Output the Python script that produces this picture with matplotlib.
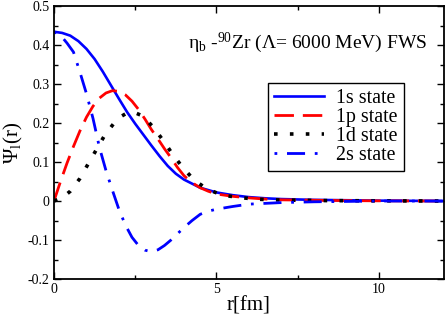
import matplotlib
matplotlib.use("Agg")
import matplotlib.pyplot as plt
from matplotlib.ticker import MultipleLocator

plt.rcParams['font.family'] = ['Liberation Serif', 'DejaVu Serif']
plt.rcParams['mathtext.fontset'] = 'custom'
plt.rcParams['mathtext.rm'] = 'Liberation Serif'
plt.rcParams['mathtext.it'] = 'Liberation Serif:italic'

# values
r_1s = [0, 0.25, 0.5, 0.75, 1.0, 1.25, 1.5, 1.75, 2.0, 2.25, 2.5, 2.75, 3.0, 3.25,
        3.5, 3.75, 4.0, 4.5, 5.0, 5.5, 6.0, 6.5, 7.0, 8.0, 9.0, 10.0, 11.0, 12.0]
psi_1s = [0.434, 0.431, 0.424, 0.41, 0.39, 0.364, 0.332, 0.297, 0.262, 0.228, 0.198,
          0.17, 0.142, 0.115, 0.09, 0.07, 0.055, 0.034, 0.022, 0.015, 0.01, 0.007,
          0.005, 0.003, 0.002, 0.001, 0.0005, 0.0]

r_1p = [0, 0.2, 0.4, 0.6, 0.8, 1.0, 1.2, 1.4, 1.6, 1.8, 2.0, 2.2, 2.4, 2.6, 2.8, 3.0,
        3.2, 3.4, 3.6, 3.8, 4.0, 4.25, 4.5, 4.75, 5.0, 5.5, 6.0, 6.5, 7.0, 8.0, 9.0,
        10.0, 12.0]
psi_1p = [0.0, 0.05, 0.097, 0.14, 0.18, 0.215, 0.243, 0.264, 0.277, 0.283, 0.281,
          0.272, 0.256, 0.235, 0.21, 0.183, 0.159, 0.134, 0.111, 0.086, 0.065, 0.047,
          0.034, 0.025, 0.018, 0.012, 0.008, 0.005, 0.003, 0.002, 0.001, 0.0005, 0.0]

r_1d = [0, 0.25, 0.5, 0.8, 1.05, 1.3, 1.55, 1.85, 2.05, 2.25, 2.45, 2.73, 3.06, 3.37,
        3.65, 3.96, 4.31, 4.72, 5.19, 5.7, 6.2, 6.7, 7.5, 8.5, 10.0, 12.0]
psi_1d = [0.0, 0.008, 0.025, 0.058, 0.095, 0.131, 0.167, 0.2, 0.216, 0.226, 0.228,
          0.218, 0.189, 0.154, 0.12, 0.086, 0.054, 0.03, 0.015, 0.009, 0.005, 0.003,
          0.002, 0.001, 0.0005, 0.0]

r_2s = [0, 0.2, 0.4, 0.6, 0.8, 1.0, 1.2, 1.4, 1.6, 1.8, 2.0, 2.2, 2.4, 2.6, 2.8, 3.0,
        3.2, 3.4, 3.6, 3.8, 4.0, 4.25, 4.5, 4.75, 5.0, 5.5, 6.0, 6.5, 7.0, 7.5, 8.0,
        9.0, 10.0, 12.0]
psi_2s = [0.434, 0.425, 0.405, 0.382, 0.33, 0.275, 0.212, 0.137, 0.078, 0.027, -0.022,
          -0.062, -0.093, -0.114, -0.126, -0.13, -0.125, -0.114, -0.1, -0.084, -0.068,
          -0.05, -0.034, -0.026, -0.021, -0.014, -0.008, -0.006, -0.004, -0.003,
          -0.002, -0.001, 0.0, 0.0]

yticks = [-0.2, -0.1, 0, 0.1, 0.2, 0.3, 0.4, 0.5]
ytick_labels = ['-0.2', '-0.1', '0', '0.1', '0.2', '0.3', '0.4', '0.5']
xticks = [0, 5, 10]
xtick_labels = ['0', '5', '10']

fig = plt.figure(figsize=(4.48, 3.16), dpi=100)
ax = fig.add_axes([0.1205, 0.117, 0.8705, 0.864])

ax.plot(r_1s, psi_1s, color='#0000ff', lw=1.9, label='1s state')
ax.plot(r_1p, psi_1p, color='#ff0000', lw=2.0, ls=(0, (7, 3.2)), label='1p state')
ax.plot(r_1d, psi_1d, color='black', lw=2.6, ls=(0, (1, 3.4)), label='1d state')
ax.plot(r_2s, psi_2s, color='#0000ff', lw=2.0, ls=(0, (1, 3.5, 6.5, 3.5)), label='2s state')

ax.set_xlim(0, 12)
ax.set_ylim(-0.2, 0.5)
ax.set_xticks(xticks)
ax.set_xticklabels(xtick_labels)
ax.set_yticks(yticks)
ax.set_yticklabels(ytick_labels)
ax.xaxis.set_minor_locator(MultipleLocator(2.5))
ax.yaxis.set_minor_locator(MultipleLocator(0.05))
ax.tick_params(which='both', direction='in', top=True, right=True, labelsize=10, width=1.0)
ax.tick_params(which='major', length=5, pad=3)
ax.tick_params(which='minor', length=3)
for s in ax.spines.values():
    s.set_linewidth(1.3)

ax.set_xlabel('r[fm]', fontsize=15, labelpad=0)
ax.set_ylabel('Ψ$_\\mathrm{l}$(r)', fontsize=15, labelpad=2)

ax.text(0.956, 0.846, 'η$_\\mathrm{b}$ -$^{90}$Zr (Λ= 6000 MeV) FWS', transform=ax.transAxes,
        fontsize=14, ha='right', va='baseline')

leg = ax.legend(loc='upper left', bbox_to_anchor=(0.549, 0.718), borderaxespad=0,
                fontsize=14.4, handlelength=2.5, handletextpad=0.6, labelspacing=0.0,
                borderpad=0.3, fancybox=False, framealpha=1, edgecolor='black')
leg.get_frame().set_linewidth(1.0)

fig.savefig('out.png', dpi=100)
